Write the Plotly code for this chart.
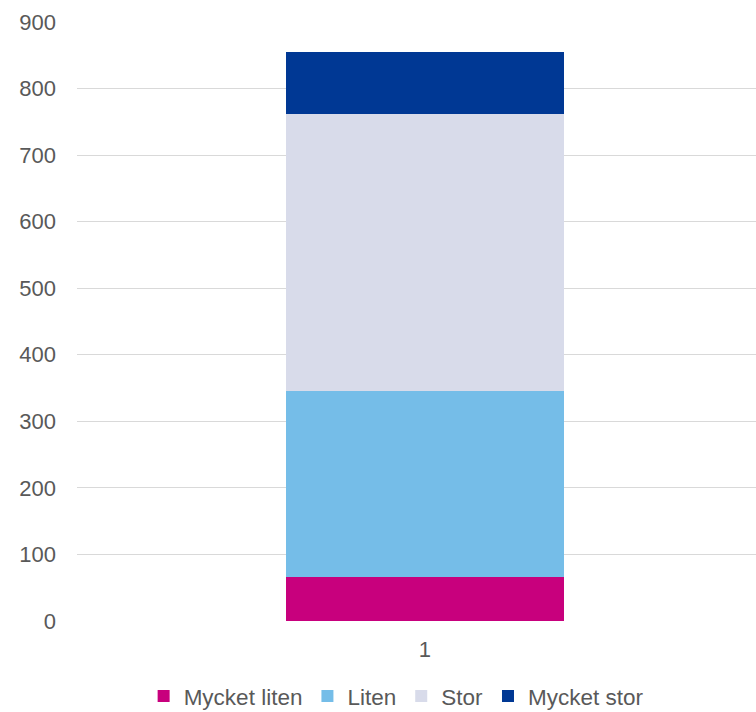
import plotly.graph_objects as go

categories = ["1"]
series_names = ["Mycket liten", "Liten", "Stor", "Mycket stor"]
mycket_liten = [66]
liten = [279]
stor = [417]
mycket_stor = [93]
colors = ["#C8007D", "#75BDE8", "#D8DBEA", "#003894"]
y_ticks = [0, 100, 200, 300, 400, 500, 600, 700, 800, 900]

fig = go.Figure()
for name, vals, col in zip(series_names, [mycket_liten, liten, stor, mycket_stor], colors):
    fig.add_trace(go.Bar(x=[0], y=vals, name=name, marker=dict(color=col, line=dict(width=0)), width=0.4))

fig.update_layout(
    barmode="stack",
    width=756, height=712,
    margin=dict(l=77, r=0, t=22, b=91, autoexpand=False),
    paper_bgcolor="white", plot_bgcolor="white",
    font=dict(family="Liberation Sans, Arial, sans-serif", size=22, color="#595959"),
    showlegend=True,
    legend=dict(orientation="h", x=0.47, xanchor="center", y=-0.126, yanchor="middle",
                font=dict(size=22.5, color="#595959"), itemwidth=30, tracegroupgap=0,
                traceorder="normal"),
    xaxis=dict(range=[-0.5, 0.476], tickvals=[0], ticktext=categories, showgrid=False,
               zeroline=False, showline=False, ticks="", ticklabelstandoff=13,
               tickfont=dict(size=22, color="#595959")),
    yaxis=dict(range=[0, 900], tickvals=y_ticks, showgrid=True, gridcolor="#D9D9D9", gridwidth=1,
               zeroline=False, showline=False, ticks="", ticklabelstandoff=20,
               tickfont=dict(size=22, color="#595959")),
)
fig.write_html("out.html", config={"displayModeBar": False},
               post_script="document.body.style.margin='0';document.body.style.overflow='hidden';")
